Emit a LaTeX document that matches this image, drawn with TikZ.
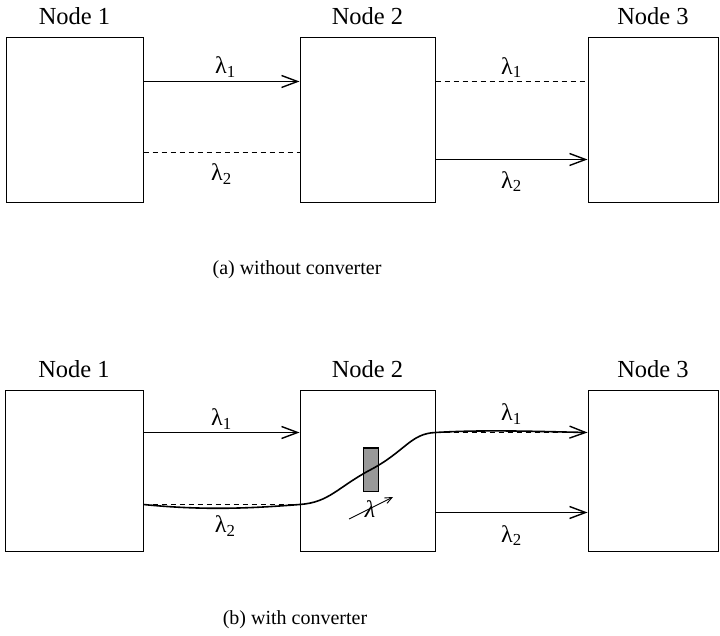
\documentclass[tikz,border=0pt]{standalone}
\usepackage{fontspec}
\setmainfont{Liberation Serif}
\usepackage{tikz}
\usetikzlibrary{positioning,arrows.meta}

\tikzset{
  box/.style={draw, line width=1pt, minimum height=#1},
  nodelbl/.style={font=\fontsize{24.5}{27}\selectfont, inner sep=2pt},
  lam/.style={font=\fontsize{24}{26}\selectfont, inner sep=2pt},
  caption/.style={font=\fontsize{20}{23}\selectfont},
  sig/.style={line width=1.6pt, -{Straight Barb[length=16pt,width=12pt,line width=1.4pt]}},
  idle/.style={line width=1pt, dash pattern=on 5pt off 4pt}
}
\newcommand{\lamsub}[1]{λ\textsubscript{#1}}

\begin{document}
\begin{tikzpicture}[x=1pt,y=1pt]
			\useasboundingbox (0,0) rectangle (720,635);
			% (a) without converter
			\node[box=165pt, minimum width=137pt] (n1a) at (74.5,514.5) {};
			\node[box=165pt, minimum width=135pt] (n2a) at (367.5,514.5) {};
			\node[box=165pt, minimum width=130pt] (n3a) at (653,514.5) {};
			\node[nodelbl, above=11pt of n1a] {Node 1};
			\node[nodelbl, above=11pt of n2a] {Node 2};
			\node[nodelbl, above=11pt of n3a] {Node 3};

			\draw[sig] ([yshift=-44pt]n1a.north east) -- node[lam, above, xshift=4pt, yshift=1pt] {\lamsub{1}} ([yshift=-44pt]n2a.north west);
			\draw[idle] ([yshift=-115pt]n1a.north east) -- node[lam, below, yshift=-9pt] {\lamsub{2}} ([yshift=-115pt]n2a.north west);
			\draw[idle] ([yshift=-44pt]n2a.north east) -- node[lam, above, yshift=1pt] {\lamsub{1}} ([yshift=-44pt]n3a.north west);
			\draw[sig] ([yshift=-122pt]n2a.north east) -- node[lam, below, yshift=-9pt] {\lamsub{2}} ([yshift=-122pt]n3a.north west);

			\node[caption] (capa) at (297,365) {(a) without converter};

			% (b) with converter
			\node[box=160pt, minimum width=138pt] (n1b) at (74,164) {};
			\node[box=160pt, minimum width=135pt] (n2b) at (367.5,164) {};
			\node[box=160pt, minimum width=130pt] (n3b) at (653,164) {};
			\node[nodelbl, above=11pt of n1b] {Node 1};
			\node[nodelbl, above=11pt of n2b] {Node 2};
			\node[nodelbl, above=11pt of n3b] {Node 3};

			\draw[sig] ([yshift=-42pt]n1b.north east) -- node[lam, above] {\lamsub{1}} ([yshift=-42pt]n2b.north west);
			\draw[idle] ([yshift=-114pt]n1b.north east) -- ([yshift=-114pt]n2b.north west);
			\draw[idle] ([yshift=-42pt]n2b.north east) -- ([yshift=-42pt]n3b.north west);
			\draw[sig] ([yshift=-122pt]n2b.north east) -- node[lam, below, yshift=-10pt] {\lamsub{2}} ([yshift=-122pt]n3b.north west);

			% converter
			\node[draw, line width=1pt, fill=black!40, minimum width=15pt, minimum height=43pt, inner sep=0pt] (conv) at (371,165.5) {};
			\draw[sig] ([yshift=-114pt]n1b.north east)
				.. controls +(60,-6) and +(-50,-4) .. node[lam, below, yshift=-5pt] {\lamsub{2}} ([yshift=-114pt]n2b.north west)
				.. controls +(30,2) and +(-34,-18) .. (conv.center)
				.. controls +(34,18) and +(-25,-1) .. ([yshift=-42pt]n2b.north east)
				.. controls +(50,3) and +(-50,1) .. node[lam, above, yshift=4pt] {\lamsub{1}} ([yshift=-42pt]n3b.north west);
			\node[lam, font=\fontsize{24}{26}\selectfont\itshape] (tun) at (370,126) {λ};
			\draw[line width=0.9pt, -{Straight Barb[length=7pt,width=6pt]}] ([shift={(-21pt,-10pt)}]tun.center) -- ([shift={(23pt,12pt)}]tun.center);

			\node[caption] (capb) at (295,15) {(b) with converter};
		\end{tikzpicture}
\end{document}
